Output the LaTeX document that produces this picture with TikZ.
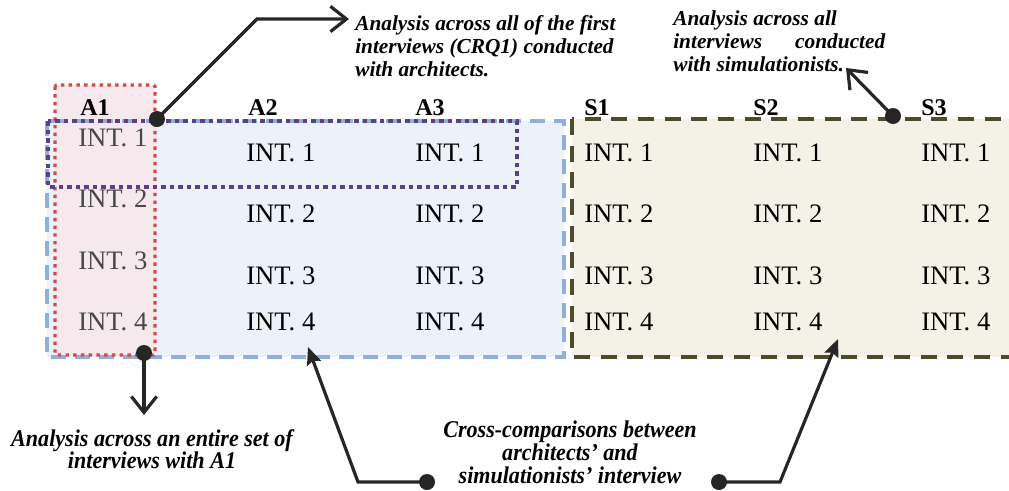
\documentclass[tikz,border=0pt]{standalone}
\usepackage{fontspec}
\setmainfont{Liberation Serif}
\newfontfamily\narrowfont[FakeStretch=0.92]{Liberation Serif}
\usetikzlibrary{positioning, arrows.meta}

\definecolor{archfill}{HTML}{ECF1FA}
\definecolor{archline}{HTML}{8FB0DA}
\definecolor{simfill}{HTML}{F4F2E7}
\definecolor{simline}{HTML}{4E4A2C}
\definecolor{aonefill}{HTML}{F6E9EE}
\definecolor{aoneline}{HTML}{D24A4A}
\definecolor{firstline}{HTML}{5C3F84}
\definecolor{inkdark}{HTML}{262626}

\tikzset{
  cell/.style={anchor=base west, inner sep=0pt, font=\fontsize{20}{20}\selectfont},
  head/.style={anchor=base west, inner sep=0pt, font=\fontsize{18}{18}\selectfont\bfseries},
  note/.style={anchor=north west, inner sep=0pt, align=left, font=\fontsize{16}{17.3}\selectfont\bfseries\itshape},
  lownote/.style={anchor=north, inner sep=0pt, align=center, font=\narrowfont\fontsize{18}{17}\selectfont\bfseries\itshape},
  pointer/.style={draw=inkdark, line width=2.4pt},
  openhead/.style={-{Straight Barb[length=12pt, width=19pt, line width=2.4pt]}},
  fullhead/.style={-{Stealth[length=13pt, width=11pt, inset=2pt]}},
  blob/.style={circle, fill=inkdark, inner sep=0pt, minimum size=12pt},
}

\begin{document}
\begin{tikzpicture}[x=0.75pt, y=-0.75pt]
    \useasboundingbox (0,0) rectangle (1009,490);

    % shaded groups
    \fill[archfill] (47,121) rectangle (564,357);
    \fill[simfill] (572,119) rectangle (1015,357);
    \fill[aonefill, rounded corners=1pt] (55,85) rectangle (155,355);
    \draw[archline, line width=2.4pt, dash pattern=on 11pt off 7pt] (47,121) rectangle (564,357);
    \draw[simline, line width=2.6pt, dash pattern=on 12pt off 8pt] (572,119) rectangle (1015,357);
    \draw[aoneline, line width=2.4pt, dash pattern=on 2.6pt off 3.2pt, rounded corners=1pt] (55,85) rectangle (155,355);
    \draw[firstline, line width=2.4pt, dash pattern=on 3.4pt off 3pt] (48,121) rectangle (517,187);

    % column heads
    \foreach \name/\x in {A1/80, A2/248, A3/415, S1/584, S2/753, S3/921}
        \node[head] (h\name) at (\x,115) {\name};

    % interviews
    \foreach \row/\y in {1/146, 2/207, 3/269, 4/330}
        \node[cell, text=black!72] (A1-\row) at (78,\y) {INT. \row};
    \foreach \col/\x in {A2/246, A3/415, S1/584, S2/753, S3/921} {
        \foreach \row/\y in {1/161, 2/222, 3/284, 4/330}
            \node[cell] (\col-\row) at (\x,\y) {INT. \row};
    }

    % annotations
    \node[note] (firstnote) at (355,15) {Analysis across all of the first\\interviews (CRQ1) conducted\\with architects.};
    \node[note] (simnote) at (673,10) {Analysis across all\\interviews\hspace{1.55em}conducted\\with simulationists.};
    \node[lownote] (onenote) at (152,429) {Analysis across an entire set of\\interviews with A1};
    \node[lownote] (crossnote) at (570,421) {Cross-comparisons between\\architects’ and\\simulationists’ interview};

    % pointers
    \node[blob] (dotA) at (157,119) {};
    \node[blob] (dotS) at (893,116) {};
    \node[blob] (dotO) at (144,353) {};
    \node[blob] (dotL) at (427,482) {};
    \node[blob] (dotR) at (719,482) {};
    \coordinate (bendA) at (257,19);
    \coordinate (tipA) at (349,19);
    \coordinate (tipS) at (846,68);
    \coordinate (tipO) at (144,415);
    \coordinate (bendL) at (358,482);
    \coordinate (tipL) at (308,347);
    \coordinate (bendR) at (780,482);
    \coordinate (tipR) at (838,339);

    \draw[pointer, openhead] (dotA.center) -- (bendA) -- (tipA);
    \draw[pointer, openhead] (dotS.center) -- (tipS);
    \draw[pointer, openhead] (dotO.center) -- (tipO);
    \draw[pointer, fullhead] (dotL.center) -- (bendL) -- (tipL);
    \draw[pointer, fullhead] (dotR.center) -- (bendR) -- (tipR);
\end{tikzpicture}
\end{document}
